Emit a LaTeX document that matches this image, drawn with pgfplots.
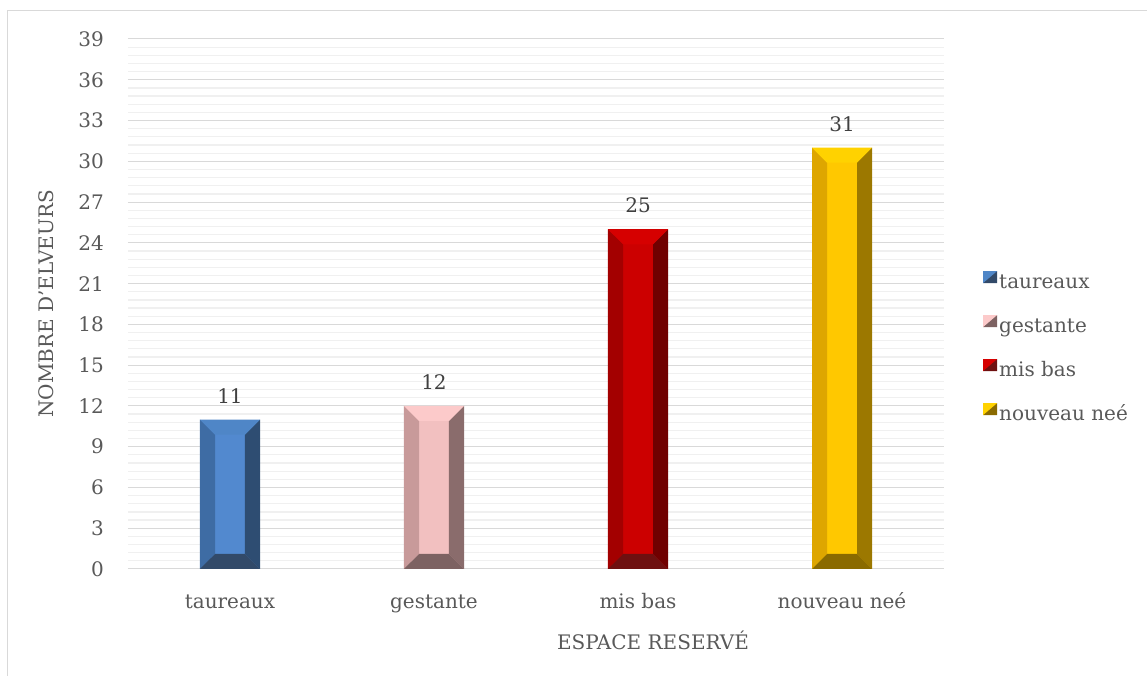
\documentclass[border=0pt]{standalone}
\usepackage{fontspec}
\setmainfont{DejaVu Serif}
\usepackage{pgfplots}
\pgfplotsset{compat=1.18}

\definecolor{txt}{HTML}{595959}
\definecolor{lbl}{HTML}{404040}
\definecolor{majgrid}{HTML}{D9D9D9}
\definecolor{mingrid}{HTML}{F0F0F0}
% taureaux
\definecolor{tC}{RGB}{82,137,207}
\definecolor{tT}{RGB}{79,134,199}
\definecolor{tL}{RGB}{62,108,164}
\definecolor{tR}{RGB}{46,77,114}
\definecolor{tB}{RGB}{50,74,105}
% gestante
\definecolor{gC}{RGB}{242,192,192}
\definecolor{gT}{RGB}{252,202,202}
\definecolor{gL}{RGB}{200,154,154}
\definecolor{gR}{RGB}{138,108,108}
\definecolor{gB}{RGB}{125,98,98}
% mis bas
\definecolor{mC}{RGB}{204,0,0}
\definecolor{mT}{RGB}{214,0,0}
\definecolor{mL}{RGB}{163,0,0}
\definecolor{mR}{RGB}{112,0,0}
\definecolor{mB}{RGB}{110,16,16}
% nouveau nee
\definecolor{nC}{RGB}{255,200,0}
\definecolor{nT}{RGB}{255,210,0}
\definecolor{nL}{RGB}{222,166,0}
\definecolor{nR}{RGB}{156,120,0}
\definecolor{nB}{RGB}{138,106,0}

\pgfplotsset{
  bev/.style n args={3}{ybar, bar shift=0pt, bar width=60pt, fill=#1, draw=none,
    nodes near coords,
    every node near coord/.append style={font=\fontsize{20}{24}\selectfont, text=lbl,
      anchor=base, yshift=16.5pt, inner sep=0pt},
    legend image code/.code={
      \fill[#2] (0pt,0pt) rectangle (14pt,12pt);
      \fill[#3] (0pt,0pt) -- (14pt,0pt) -- (14pt,12pt) -- cycle;}},
}

% bevel faces of one bar: x, value, top, left, right, bottom
\newcommand{\bevel}[6]{%
  \pgfmathsetmacro{\xa}{#1-0.1471}%
  \pgfmathsetmacro{\xb}{#1+0.1471}%
  \pgfmathsetmacro{\xc}{#1-0.0735}%
  \pgfmathsetmacro{\xd}{#1+0.0735}%
  \pgfmathsetmacro{\yt}{#2-1.104}%
  \addplot[fill=#4,draw=none,forget plot] coordinates {(\xa,0) (\xa,#2) (\xc,\yt) (\xc,1.104)} -- cycle;
  \addplot[fill=#5,draw=none,forget plot] coordinates {(\xb,0) (\xb,#2) (\xd,\yt) (\xd,1.104)} -- cycle;
  \addplot[fill=#3,draw=none,forget plot] coordinates {(\xa,#2) (\xb,#2) (\xd,\yt) (\xc,\yt)} -- cycle;
  \addplot[fill=#6,draw=none,forget plot] coordinates {(\xa,0) (\xb,0) (\xd,1.104) (\xc,1.104)} -- cycle;
}

\begin{document}
\begin{tikzpicture}
\path[use as bounding box] (-128pt,-107pt) rectangle (1019pt,569pt);
\draw[majgrid,line width=1pt] (-120pt,-107pt) -- (-120pt,558.5pt) -- (1019pt,558.5pt);
\begin{axis}[
  scale only axis, width=816pt, height=530pt,
  xmin=-0.5, xmax=3.5, ymin=0, ymax=39,
  xtick={0,1,2,3},
  xticklabels={taureaux, gestante, mis bas, nouveau neé},
  ytick={0,3,...,39}, minor tick num=4,
  ymajorgrids, yminorgrids,
  major grid style={majgrid,line width=1pt},
  minor grid style={mingrid,line width=1.2pt},
  axis line style={draw=none},
  major tick length=0pt, minor tick length=0pt,
  /pgf/number format/assume math mode=true,
  tick label style={font=\fontsize{20}{24}\selectfont, text=txt, inner sep=0pt},
  yticklabel style={anchor=east, xshift=-24pt},
  xticklabel style={anchor=base, yshift=-40pt},
  xlabel={ESPACE RESERVÉ},
  ylabel={NOMBRE D'ELVEURS},
  label style={font=\fontsize{20}{24}\selectfont, text=txt},
  xlabel style={at={(axis description cs:0.6434,-0.1528)}, anchor=base},
  ylabel style={at={(axis description cs:-0.0919,0.5)}, anchor=base, rotate=0},
  legend style={at={(axis description cs:1.0478,0.5623)}, anchor=north west,
    draw=none, fill=none, inner sep=0pt, row sep=20pt,
    font=\fontsize{20}{24}\selectfont, text=txt,
    nodes={inner sep=2pt, text height=15pt, text depth=5pt}},
  legend cell align=left,
]
\addplot[bev={tC}{tT}{tB}] coordinates {(0,11)};
\addlegendentry{taureaux}
\addplot[bev={gC}{gT}{gB}] coordinates {(1,12)};
\addlegendentry{gestante}
\addplot[bev={mC}{mT}{mB}] coordinates {(2,25)};
\addlegendentry{mis bas}
\addplot[bev={nC}{nT}{nB}] coordinates {(3,31)};
\addlegendentry{nouveau neé}
\bevel{0}{11}{tT}{tL}{tR}{tB}
\bevel{1}{12}{gT}{gL}{gR}{gB}
\bevel{2}{25}{mT}{mL}{mR}{mB}
\bevel{3}{31}{nT}{nL}{nR}{nB}
\end{axis}
\end{tikzpicture}
\end{document}
